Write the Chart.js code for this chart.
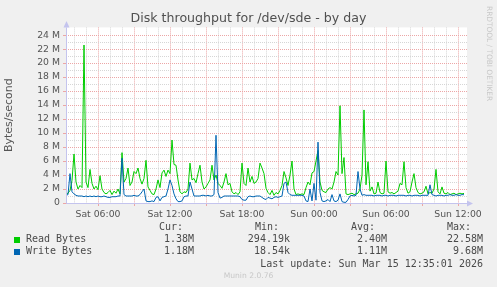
<!DOCTYPE html>
<html><head><meta charset="utf-8">
<script src="https://cdn.jsdelivr.net/npm/chart.js@4/dist/chart.umd.min.js"></script>
<style>
html,body{margin:0;padding:0;background:#f0f0f0;}
#wrap{position:relative;width:497px;height:287px;overflow:hidden;background:#f0f0f0;}
#c{position:absolute;left:0;top:0;}
.m{position:absolute;font-family:"DejaVu Sans Mono",monospace;font-size:10px;line-height:12px;color:#4a4a4a;white-space:pre;}
.sq{position:absolute;width:6px;height:6px;}
#munin{position:absolute;left:0;width:497px;top:271px;text-align:center;font-family:"DejaVu Sans",sans-serif;font-size:7.6px;line-height:10px;color:#c8c8c8;}
#rrd{position:absolute;left:485px;top:6px;writing-mode:vertical-rl;font-family:"DejaVu Sans",sans-serif;font-size:7.4px;line-height:8px;color:#c8c8c8;white-space:pre;}
</style></head><body>
<div id="wrap">
<canvas id="c" width="497" height="287"></canvas>
<div id="rrd">RRDTOOL / TOBI OETIKER</div>
<div id="munin">Munin 2.0.76</div>
</div>
<script>
// ---- data (values in M bytes/second), one point every 10 minutes ----
const startMinute = 200;   // minutes after Sat 00:00
const stepMinutes = 10;
const readBytesM = [
 1.3,1.4,1.8,3.2,7.0,3.0,2.0,2.5,2.2,22.58,
 3.0,2.2,4.8,2.8,2.0,2.4,1.9,3.9,2.0,1.5,
 1.3,1.5,1.8,1.2,1.7,1.4,2.0,1.3,7.2,3.0,
 3.5,5.0,2.5,3.0,4.5,4.2,5.0,3.5,2.7,3.5,
 6.1,2.3,1.8,1.3,1.2,2.0,3.3,2.2,4.3,4.7,
 3.8,4.7,4.2,9.0,5.5,5.4,3.3,1.6,1.3,1.6,
 1.5,2.0,5.7,3.3,3.5,2.9,4.2,5.4,3.0,2.0,
 2.3,2.8,3.3,5.4,3.3,4.0,2.8,2.5,2.1,3.0,
 4.2,2.6,2.8,1.6,1.3,1.5,1.2,1.6,5.7,2.8,
 2.5,5.0,3.0,3.8,2.8,3.0,3.5,5.7,5.0,4.2,
 2.1,1.5,1.2,1.8,1.1,1.5,1.3,1.8,2.5,4.5,
 3.6,2.5,4.0,6.0,2.0,1.2,1.3,1.2,1.3,1.2,
 2.2,3.0,2.6,4.3,4.5,6.0,7.5,3.0,1.8,1.6,
 1.5,2.0,2.2,2.0,3.0,4.5,4.0,13.9,4.2,6.5,
 1.3,1.2,1.3,1.4,1.2,1.3,1.4,2.0,4.0,13.3,
 2.6,5.9,1.7,2.3,1.3,1.4,3.0,1.5,1.3,1.4,
 6.0,1.6,1.4,1.5,1.3,1.5,1.7,2.8,2.6,5.9,
 2.2,1.4,1.6,3.0,4.2,2.2,1.5,1.3,1.4,1.6,
 2.4,1.3,1.5,1.4,2.0,4.8,1.6,1.3,2.3,1.4,
 1.3,1.5,1.2,1.3,1.4,1.2,1.3,1.4,1.3,1.38
];
const writeBytesM = [
 1.1,1.2,4.2,1.6,1.3,1.1,1.0,1.0,1.0,0.9,
 1.0,0.9,1.0,0.9,1.0,0.9,1.0,0.9,0.9,1.0,
 0.9,0.8,0.8,0.9,0.9,0.9,1.0,1.0,6.4,1.2,
 1.0,1.0,1.0,1.0,1.1,1.0,1.0,1.2,1.6,2.0,
 0.3,0.2,0.2,0.3,0.2,0.8,0.9,0.3,0.8,0.9,
 1.0,2.0,3.3,2.5,1.3,0.6,0.2,0.2,0.3,0.9,
 1.0,1.0,3.0,2.0,1.0,1.0,1.0,1.0,1.1,1.1,
 1.0,1.1,1.0,1.0,1.2,9.68,1.5,0.7,0.8,1.0,
 1.0,1.0,1.0,1.0,1.0,1.0,1.0,0.9,0.5,0.4,
 0.4,0.9,1.0,0.9,0.9,1.0,1.0,1.0,0.8,0.6,
 0.5,0.8,0.7,0.6,0.8,0.9,0.8,0.9,1.0,2.8,
 3.0,1.5,1.2,1.1,1.1,1.1,1.1,1.1,1.1,1.0,
 0.3,0.2,2.0,0.3,2.8,0.4,8.7,1.5,0.3,0.2,
 0.3,0.5,0.2,1.2,0.3,0.2,0.4,1.3,0.2,0.1,
 0.1,0.5,1.0,1.1,1.0,1.1,4.5,2.0,1.1,1.2,
 1.1,1.1,1.1,1.1,1.0,1.1,1.1,1.1,1.0,1.1,
 1.1,1.0,1.1,1.1,1.1,1.0,1.1,1.1,1.1,1.1,
 1.0,1.1,1.1,1.0,1.1,1.1,1.1,1.0,1.1,1.1,
 1.1,1.1,2.6,1.2,1.1,1.0,1.1,1.1,1.1,1.0,
 1.1,1.1,1.2,1.1,1.1,1.2,1.1,1.1,1.2,1.18
];
const xTickMinutes = [360, 720, 1080, 1440, 1800, 2160];
const xTickLabels = ['Sat 06:00','Sat 12:00','Sat 18:00','Sun 00:00','Sun 06:00','Sun 12:00'];
const yLabelStep = 2;   // labelled every 2 M, grid every 1 M
const yGridMax = 24;

const chartTitle = 'Disk throughput for /dev/sde - by day';
const seriesNames = ['Read Bytes', 'Write Bytes'];
const seriesColors = ['#00cc00', '#0066b3'];
const curValues = ['1.38M', '1.18M'];
const minValues = ['294.19k', '18.54k'];
const avgValues = ['2.40M', '1.11M'];
const maxValues = ['22.58M', '9.68M'];
const lastUpdate = 'Last update: Sun Mar 15 12:35:01 2026';

// ---- legend (HTML text) ----
const wrap = document.getElementById('wrap');
function addText(txt, cls, css){ const d=document.createElement('div'); d.className=cls; d.textContent=txt; Object.assign(d.style, css); wrap.appendChild(d); return d; }
const colRight = [194, 290, 387, 483];
const headers = ['Cur:', 'Min:', 'Avg:', 'Max:'];
const headerLeft = [159, 255, 351, 447];
headers.forEach((h,k)=> addText(h,'m',{left:headerLeft[k]+'px', top:'221px'}));
const cols = [curValues, minValues, avgValues, maxValues];
seriesNames.forEach((name, r)=>{
  const top = 233 + r*12.4;
  const sq = document.createElement('div'); sq.className='sq';
  Object.assign(sq.style,{left:'14px', top:(top+4)+'px', background:seriesColors[r]}); wrap.appendChild(sq);
  addText(name,'m',{left:'26px', top:top+'px'});
  cols.forEach((col,k)=> addText(col[r],'m',{right:(497-colRight[k])+'px', top:top+'px'}));
});
addText(lastUpdate,'m',{right:(497-483)+'px', top:'257.5px'});

// ---- chart ----
const toPoints = arr => arr.map((v,i)=>({x:startMinute + i*stepMinutes, y:v}));
const majorGrid = '#eca6a6', minorGrid = '#d6d6d6', axisColor = '#c4c4ee';

const muninPlugin = {
  id:'munin',
  beforeDraw(chart){
    const {ctx, chartArea:a} = chart;
    ctx.save(); ctx.fillStyle='#ffffff';
    ctx.fillRect(a.left, a.top, a.right-a.left, a.bottom-a.top);
    ctx.restore();
  },
  afterDraw(chart){
    const {ctx, chartArea:a} = chart;
    ctx.save(); ctx.fillStyle=axisColor; ctx.strokeStyle=axisColor; ctx.lineWidth=1; ctx.setLineDash([]);
    ctx.beginPath(); ctx.moveTo(a.left+0.5, a.top); ctx.lineTo(a.left+0.5, a.bottom+0.5); ctx.lineTo(a.right, a.bottom+0.5); ctx.stroke();
    ctx.beginPath(); ctx.moveTo(a.left+0.5, a.top-6.5); ctx.lineTo(a.left-2.5, a.top); ctx.lineTo(a.left+3.5, a.top); ctx.closePath(); ctx.fill();
    ctx.beginPath(); ctx.moveTo(a.right+6, a.bottom+0.5); ctx.lineTo(a.right, a.bottom-2.5); ctx.lineTo(a.right, a.bottom+3.5); ctx.closePath(); ctx.fill();
    // chart title, centred on the whole image
    ctx.fillStyle='#505050'; ctx.font='12.6px "DejaVu Sans", sans-serif';
    ctx.textAlign='center'; ctx.textBaseline='middle';
    ctx.fillText(chartTitle, chart.width/2, 19);
    ctx.restore();
  }
};

const tickFont = {family:'"DejaVu Sans", sans-serif', size:9.3};
new Chart(document.getElementById('c'), {
  type:'line',
  data:{ datasets:[
    {label:seriesNames[1], data:toPoints(writeBytesM), borderColor:seriesColors[1], borderWidth:1, pointRadius:0, tension:0, fill:false, order:0},
    {label:seriesNames[0], data:toPoints(readBytesM), borderColor:seriesColors[0], borderWidth:1, pointRadius:0, tension:0, fill:false, order:1}
  ]},
  options:{
    responsive:false, animation:false, events:[],
    layout:{padding:{left:0, right:30, top:27.4, bottom:64}},
    plugins:{ legend:{display:false}, tooltip:{enabled:false}, title:{display:false} },
    scales:{
      x:{type:'linear', min:200, max:2205,
        afterBuildTicks(scale){ const t=[]; for(let v=Math.ceil(scale.min/60)*60; v<=scale.max; v+=60) t.push({value:v}); scale.ticks=t; },
        afterFit(scale){ scale.height = 20; },
        ticks:{autoSkip:false, maxRotation:0, padding:3, color:'#555', font:tickFont,
          callback:v=>{ const k=xTickMinutes.indexOf(v); return k>=0 ? xTickLabels[k] : ''; }},
        grid:{color:c=> (c.tick && c.tick.value%180===0) ? majorGrid : minorGrid, tickLength:3, drawTicks:true,
          tickColor:c=> (c.tick && c.tick.value%180===0) ? majorGrid : 'rgba(0,0,0,0)', tickBorderDash:[]},
        border:{display:false, dash:[1,1]}
      },
      y:{min:0, max:25.1,
        afterBuildTicks(scale){ const t=[]; for(let v=0; v<=yGridMax; v++) t.push({value:v}); scale.ticks=t; },
        afterFit(scale){ scale.width = 66; },
        ticks:{autoSkip:false, padding:3, color:'#555', font:tickFont,
          callback:v=> v%yLabelStep===0 ? (v===0 ? '0' : v+' M') : ''},
        grid:{color:c=> (c.tick && c.tick.value%yLabelStep===0) ? majorGrid : minorGrid, tickLength:3, drawTicks:true,
          tickColor:c=> (c.tick && c.tick.value%yLabelStep===0) ? majorGrid : 'rgba(0,0,0,0)', tickBorderDash:[]},
        border:{display:false, dash:[1,1]},
        title:{display:true, text:'Bytes/second', color:'#555', font:{family:'"DejaVu Sans", sans-serif', size:11}, padding:{top:3, bottom:0}}
      }
    }
  },
  plugins:[muninPlugin]
});
</script>
</body></html>
